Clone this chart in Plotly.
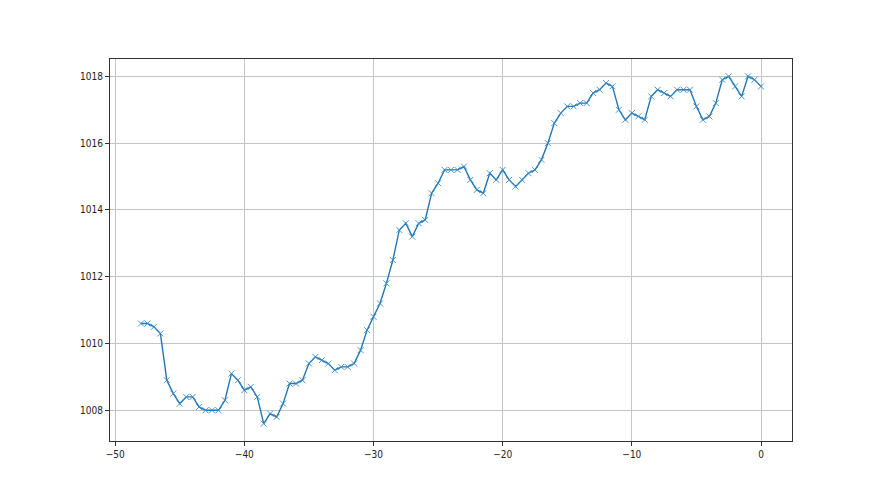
import numpy as np
import plotly.graph_objects as go

hours = [-48 + 0.5 * i for i in range(97)]
pressure = [
    1010.6, 1010.6, 1010.5, 1010.3, 1008.9, 1008.5, 1008.2, 1008.4, 1008.4, 1008.1,
    1008.0, 1008.0, 1008.0, 1008.3, 1009.1, 1008.9, 1008.6, 1008.7, 1008.4, 1007.6,
    1007.9, 1007.8, 1008.2, 1008.8, 1008.8, 1008.9, 1009.4, 1009.6, 1009.5, 1009.4,
    1009.2, 1009.3, 1009.3, 1009.4, 1009.8, 1010.4, 1010.8, 1011.2, 1011.8, 1012.5,
    1013.4, 1013.6, 1013.2, 1013.6, 1013.7, 1014.5, 1014.8, 1015.2, 1015.2, 1015.2,
    1015.3, 1014.9, 1014.6, 1014.5, 1015.1, 1014.9, 1015.2, 1014.9, 1014.7, 1014.9,
    1015.1, 1015.2, 1015.5, 1016.0, 1016.6, 1016.9, 1017.1, 1017.1, 1017.2, 1017.2,
    1017.5, 1017.6, 1017.8, 1017.7, 1017.0, 1016.7, 1016.9, 1016.8, 1016.7, 1017.4,
    1017.6, 1017.5, 1017.4, 1017.6, 1017.6, 1017.6, 1017.1, 1016.7, 1016.8, 1017.2,
    1017.9, 1018.0, 1017.7, 1017.4, 1018.0, 1017.9, 1017.7,
]
x_ticks = [-50, -40, -30, -20, -10, 0]
y_ticks = [1008, 1010, 1012, 1014, 1016, 1018]

fig = go.Figure()
fig.add_trace(go.Scatter(
    x=hours, y=pressure, mode="lines+markers",
    line=dict(color="#1f77b4", width=1.4),
    marker=dict(symbol="x-thin", size=6, color="#1f77b4",
                line=dict(color="#3a8ac4", width=0.9)),
    showlegend=False,
))

xmin, xmax = min(hours), max(hours)
ymin, ymax = min(pressure), max(pressure)
xpad = (xmax - xmin) * 0.05
ypad = (ymax - ymin) * 0.05

axis_common = dict(
    showline=True, linecolor="#333333", linewidth=1, mirror=True,
    ticks="outside", ticklen=4, tickwidth=1, tickcolor="#333333",
    showgrid=True, gridcolor="#c4c4c4", gridwidth=0.8,
    zeroline=False,
    tickfont=dict(family="Liberation Sans Narrow, DejaVu Sans Condensed, DejaVu Sans",
                  size=10, color="#222222"),
)
fig.update_xaxes(range=[xmin - xpad, xmax + xpad], tickvals=x_ticks, **axis_common)
fig.update_yaxes(range=[ymin - ypad, ymax + ypad], tickvals=y_ticks, **axis_common)

fig.update_layout(
    width=880, height=495,
    margin=dict(l=102, r=96, t=51, b=62),
    paper_bgcolor="white", plot_bgcolor="white",
)
fig.write_html("out.html")
